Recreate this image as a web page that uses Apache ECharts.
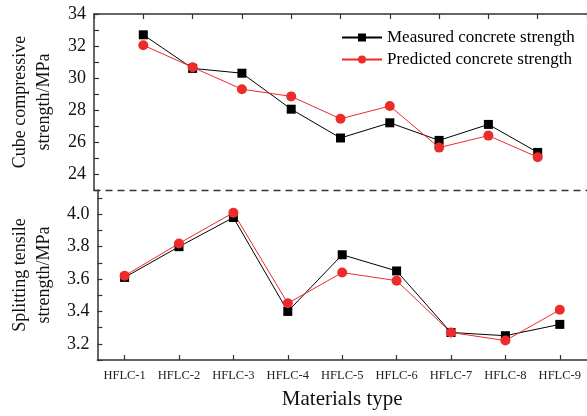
<!DOCTYPE html>
<html>
<head>
<meta charset="utf-8">
<script src="https://cdn.jsdelivr.net/npm/echarts@6/dist/echarts.min.js"></script>
<style>html,body{margin:0;padding:0;background:#fff}#c{width:587px;height:416px}</style>
</head>
<body>
<div id="c"></div>
<script>
const categories = ['HFLC-1','HFLC-2','HFLC-3','HFLC-4','HFLC-5','HFLC-6','HFLC-7','HFLC-8','HFLC-9'];
const measuredCompressive = [32.7, 30.6, 30.3, 28.05, 26.25, 27.2, 26.1, 27.1, 25.35];
const predictedCompressive = [32.05, 30.67, 29.3, 28.85, 27.45, 28.25, 25.65, 26.4, 25.05];
const measuredTensile = [3.61, 3.80, 3.98, 3.40, 3.75, 3.65, 3.27, 3.25, 3.32];
const predictedTensile = [3.62, 3.82, 4.01, 3.45, 3.64, 3.59, 3.27, 3.22, 3.41];
const seriesNames = ['Measured concrete strength', 'Predicted concrete strength'];

const FONT = 'Liberation Serif';
const AXC = '#333';
const BLACK = '#000000';
const RED = '#ee2b2b';

const chart = echarts.init(document.getElementById('c'), null, {renderer: 'canvas'});
const axisLine = {show: true, lineStyle: {color: AXC, width: 1.5}};
const tick = {show: true, inside: true, length: 5, lineStyle: {color: AXC, width: 1.2}};

chart.setOption({
  animation: false,
  backgroundColor: '#fff',
  legend: {
    left: 336, top: 24, orient: 'vertical', itemGap: 5,
    itemWidth: 40, itemHeight: 10, itemStyle: {},
    textStyle: {fontFamily: FONT, fontSize: 17, color: '#000'},
    data: seriesNames
  },
  grid: [
    {left: 92, top: 14, width: 497, height: 176},
    {left: 92, top: 190, width: 498, height: 170}
  ],
  xAxis: [
    {gridIndex: 0, type: 'value', position: 'top', min: 0, max: 10, interval: 1,
     axisLine: axisLine, axisTick: tick, axisLabel: {show: false}, splitLine: {show: false}},
    {gridIndex: 0, type: 'value', position: 'bottom', min: 0, max: 10, interval: 1,
     axisLine: {show: true, lineStyle: {color: AXC, width: 1.3, type: [6, 6]}},
     axisTick: {show: false}, axisLabel: {show: false}, splitLine: {show: false}},
    {gridIndex: 1, type: 'category', data: categories, position: 'bottom', boundaryGap: true,
     axisLine: axisLine, axisTick: Object.assign({alignWithLabel: true, interval: 0}, tick),
     axisLabel: {fontFamily: FONT, fontSize: 12.5, color: '#222', margin: 9, interval: 0},
     name: 'Materials type', nameLocation: 'middle', nameGap: 29,
     nameTextStyle: {fontFamily: FONT, fontSize: 21, color: '#111', verticalAlign: 'top'}}
  ],
  yAxis: [
    {gridIndex: 0, type: 'value', min: 23, max: 34, interval: 1,
     axisLine: axisLine, axisTick: tick, splitLine: {show: false},
     axisLabel: {fontFamily: FONT, fontSize: 18, color: '#111', margin: 8,
       formatter: v => (Math.round(v) % 2 === 0 ? String(Math.round(v)) : '')},
     name: 'Cube compressive\nstrength/MPa', nameLocation: 'middle', nameGap: 38, nameRotate: 90,
     nameTextStyle: {fontFamily: FONT, fontSize: 18, color: '#111', lineHeight: 24}},
    {gridIndex: 1, type: 'value', min: 3.1, max: 4.15, interval: 0.1,
     axisLine: axisLine, axisTick: tick, splitLine: {show: false},
     axisLabel: {fontFamily: FONT, fontSize: 18, color: '#111', margin: 8, showMaxLabel: false,
       formatter: v => { const k = Math.round(v * 10); return (k % 2 === 0 && k <= 40) ? (k / 10).toFixed(1) : ''; }},
     name: 'Splitting tensile\nstrength/MPa', nameLocation: 'middle', nameGap: 38, nameRotate: 90,
     nameTextStyle: {fontFamily: FONT, fontSize: 18, color: '#111', lineHeight: 24}}
  ],
  series: [
    {name: seriesNames[0], type: 'line', xAxisIndex: 0, yAxisIndex: 0,
     data: categories.map((c, i) => [i + 1, measuredCompressive[i]]),
     symbol: 'rect', symbolSize: 9, itemStyle: {color: BLACK}, lineStyle: {color: BLACK, width: 1}},
    {name: seriesNames[1], type: 'line', xAxisIndex: 0, yAxisIndex: 0,
     data: categories.map((c, i) => [i + 1, predictedCompressive[i]]),
     symbol: 'circle', symbolSize: 10, itemStyle: {color: RED}, lineStyle: {color: RED, width: 1}},
    {name: seriesNames[0], type: 'line', xAxisIndex: 2, yAxisIndex: 1,
     data: measuredTensile,
     symbol: 'rect', symbolSize: 9, itemStyle: {color: BLACK}, lineStyle: {color: BLACK, width: 1}},
    {name: seriesNames[1], type: 'line', xAxisIndex: 2, yAxisIndex: 1,
     data: predictedTensile,
     symbol: 'circle', symbolSize: 10, itemStyle: {color: RED}, lineStyle: {color: RED, width: 1}}
  ]
});
</script>
</body>
</html>
